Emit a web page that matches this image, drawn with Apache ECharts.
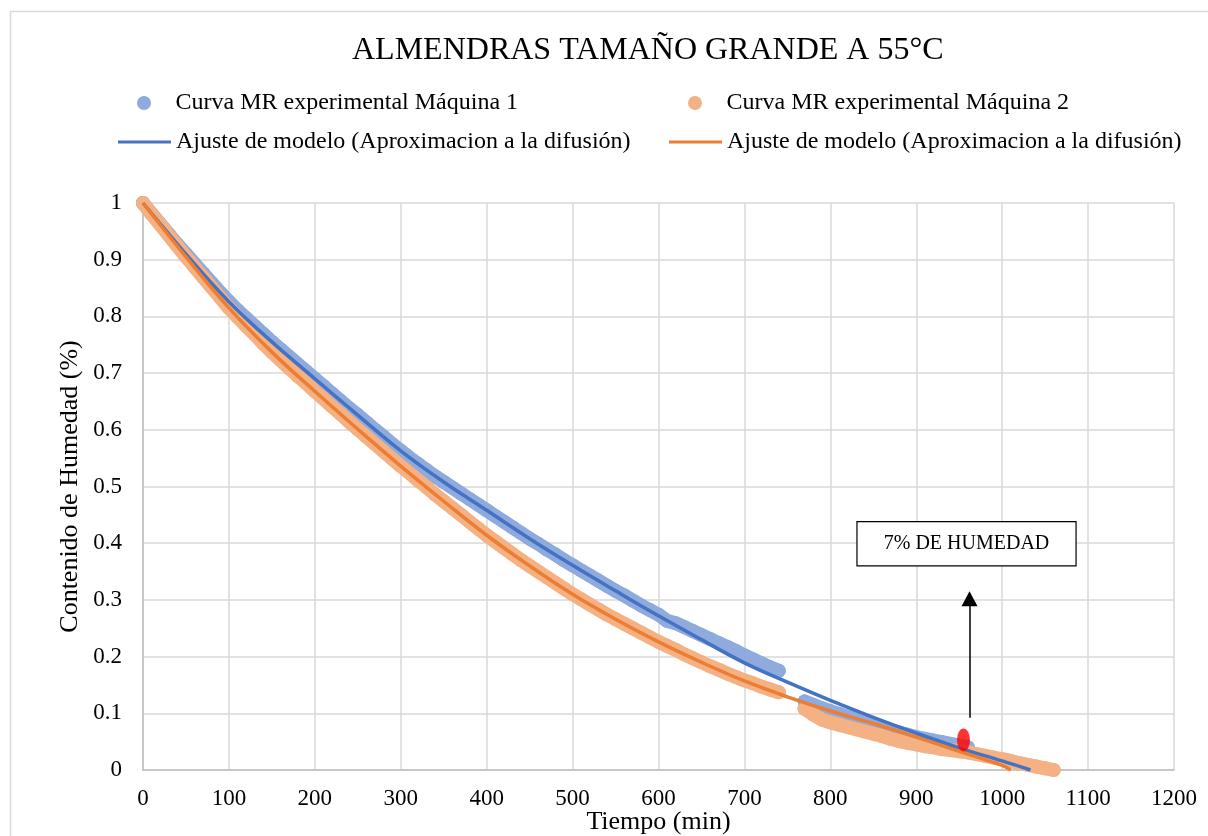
<!DOCTYPE html>
<html><head><meta charset="utf-8">
<script src="https://cdn.jsdelivr.net/npm/echarts@6/dist/echarts.min.js"></script>
<style>html,body{margin:0;padding:0;background:#fff}#c{width:1208px;height:836px}</style>
</head><body><div id="c"></div>
<script>
const titleText = 'ALMENDRAS TAMAÑO GRANDE A 55°C';
const nameM1 = 'Curva MR experimental Máquina 1';
const nameM2 = 'Curva MR experimental Máquina 2';
const nameFit = 'Ajuste de modelo (Aproximacion a la difusión)';
const xAxisName = 'Tiempo (min)';
const yAxisName = 'Contenido de Humedad (%)';
const boxText = '7% DE HUMEDAD';

const timeSeg1 = [0,10,20,30,40,50,60,70,80,90,100,110,120,130,140,150,160,170,180,190,200,210,220,230,240,250,260,270,280,290,300,310,320,330,340,350,360,370,380,390,400,410,420,430,440,450,460,470,480,490,500,510,520,530,540,550,560,570,580,590,600,610,620,630,640,650,660,670,680,690,700,710,720,730,740];
const m1Seg1 = [1.000,0.981,0.963,0.945,0.927,0.910,0.893,0.876,0.859,0.842,
0.826,0.811,0.797,0.783,0.769,0.755,0.742,0.729,0.716,0.703,
0.690,0.677,0.664,0.651,0.638,0.626,0.613,0.600,0.588,0.575,
0.563,0.551,0.540,0.529,0.518,0.508,0.498,0.488,0.478,0.468,
0.458,0.448,0.438,0.428,0.418,0.408,0.399,0.389,0.380,0.370,
0.361,0.352,0.343,0.334,0.325,0.316,0.308,0.299,0.290,0.282,
0.274,0.263,0.259,0.252,0.245,0.238,0.231,0.224,0.217,0.210,
0.202,0.195,0.188,0.181,0.175];
const m2Seg1 = [1.000,0.981,0.962,0.943,0.924,0.905,0.887,0.869,0.851,0.833,
0.815,0.799,0.783,0.768,0.752,0.737,0.723,0.709,0.695,0.682,
0.668,0.655,0.641,0.628,0.614,0.601,0.588,0.575,0.562,0.549,
0.536,0.524,0.511,0.499,0.486,0.474,0.462,0.450,0.438,0.426,
0.414,0.403,0.392,0.381,0.370,0.360,0.350,0.340,0.330,0.320,
0.310,0.301,0.292,0.283,0.274,0.266,0.258,0.250,0.242,0.234,
0.226,0.219,0.212,0.204,0.197,0.190,0.183,0.177,0.170,0.164,
0.158,0.153,0.147,0.142,0.137];
const timeSeg2M1 = [770,780,790,800,810,820,830,840,850,860,870,880,890,900,910,920,930,940,950,960];
const m1Seg2 = [0.121,0.115,0.109,0.104,0.099,0.094,0.089,0.085,0.080,0.075,0.070,0.066,0.062,0.058,0.055,0.052,0.049,0.046,0.043,0.040];
const timeSeg2M2 = [770,780,790,800,810,820,830,840,850,860,870,880,890,900,910,920,930,940,950,960,970,980,990,1000,1010,1020,1030,1040,1050,1060];
const m2Seg2 = [0.108,0.098,0.089,0.084,0.080,0.076,0.072,0.068,0.064,0.060,0.055,0.051,0.048,0.045,0.042,0.040,0.037,0.035,0.033,0.031,0.028,0.025,0.022,0.019,0.016,0.012,0.009,0.006,0.003,0.000];

const fitTimesM1 = [0,50,100,150,200,250,300,350,400,450,500,550,600,650,700,750,800,850,900,950,1000,1033];
const fitM1 = [1.000,0.910,0.826,0.755,0.690,0.626,0.563,0.508,0.458,0.408,0.361,0.316,0.272,0.230,0.189,0.155,0.123,0.093,0.065,0.039,0.016,0.000];
const fitTimesM2 = [0,50,100,150,200,250,300,350,400,450,500,550,600,650,700,750,800,850,900,950,1000,1010];
const fitM2 = [1.000,0.905,0.815,0.737,0.668,0.601,0.536,0.474,0.414,0.360,0.310,0.266,0.226,0.190,0.157,0.129,0.104,0.082,0.058,0.033,0.008,0.000];

const redPoint = [955, 0.053];
const arrowFrom = [962, 0.092];
const arrowTo = [962, 0.302];
const boxCorners = [[831, 0.438], [1086, 0.360]];

const xTicks = {min: 0, max: 1200, interval: 100};
const yTicks = {min: 0, max: 1, interval: 0.1};

function pairs(xs, ys) { return xs.map((x, i) => [x, ys[i]]); }

const FONT = "'Liberation Serif','Times New Roman',serif";
const BLUE_PT = '#8FAADC', ORANGE_PT = '#F4B183', BLUE_LN = '#4472C4', ORANGE_LN = '#ED7D31';
const chart = echarts.init(document.getElementById('c'), null, {renderer: 'canvas'});

function legendItem(name, icon, left, top, w, h, color, fmt) {
  return {
    data: [{name: name, icon: icon, itemStyle: {color: color}}],
    left: left, top: top, padding: 0, itemWidth: w, itemHeight: h,
    selectedMode: false,
    formatter: fmt || undefined,
    textStyle: {fontFamily: FONT, fontSize: 24, color: '#000', lineHeight: 24}
  };
}
function band(xs, ys, color) {
  return {type: 'line', symbol: 'none', silent: true, data: pairs(xs, ys),
    lineStyle: {color: color, width: 14, cap: 'round', join: 'round'}};
}

chart.setOption({
  animation: false,
  backgroundColor: '#fff',
  title: {
    text: titleText, left: 352, top: 35, padding: 0,
    textStyle: {fontFamily: FONT, fontSize: 32, fontWeight: 'normal', color: '#000'}
  },
  legend: [
    legendItem(nameM1, 'circle', 137, 91, 53, 14, BLUE_PT),
    legendItem(nameM2, 'circle', 688, 91, 53, 14, ORANGE_PT),
    legendItem('fitM1', 'rect', 118, 130, 53, 3, BLUE_LN, () => nameFit),
    legendItem('fitM2', 'rect', 669, 130, 53, 3, ORANGE_LN, () => nameFit)
  ],
  graphic: [{
    type: 'rect', left: 8, top: 9, z: -10, silent: true,
    shape: {width: 1260, height: 900},
    style: {fill: 'none', stroke: '#d9d9d9', lineWidth: 1.5}
  }],
  grid: {left: 143, top: 203, right: 34, bottom: 66, outerBoundsMode: 'none', containLabel: false},
  xAxis: {
    type: 'value', min: xTicks.min, max: xTicks.max, interval: xTicks.interval,
    name: xAxisName, nameLocation: 'middle', nameGap: 39, nameMoveOverlap: false,
    nameTextStyle: {fontFamily: FONT, fontSize: 26, color: '#000'},
    axisLine: {lineStyle: {color: '#bfbfbf', width: 1.5}},
    axisTick: {show: false},
    axisLabel: {fontFamily: FONT, fontSize: 23, color: '#000', margin: 17,
      formatter: v => String(v)},
    splitLine: {show: true, lineStyle: {color: '#d9d9d9', width: 1.5}}
  },
  yAxis: {
    type: 'value', min: yTicks.min, max: yTicks.max, interval: yTicks.interval,
    name: yAxisName, nameLocation: 'middle', nameGap: 60, nameMoveOverlap: false,
    nameTextStyle: {fontFamily: FONT, fontSize: 26, color: '#000'},
    axisLine: {show: true, lineStyle: {color: '#bfbfbf', width: 1.5}},
    axisTick: {show: false},
    axisLabel: {fontFamily: FONT, fontSize: 23, color: '#000', margin: 21,
      formatter: v => String(+v.toFixed(1))},
    splitLine: {show: true, lineStyle: {color: '#d9d9d9', width: 1.5}}
  },
  series: [
    band(timeSeg1, m1Seg1, BLUE_PT),
    band(timeSeg2M1, m1Seg2, BLUE_PT),
    {name: nameM1, type: 'scatter', symbol: 'circle', symbolSize: 14,
     itemStyle: {color: BLUE_PT, opacity: 1}, silent: true,
     data: pairs(timeSeg1, m1Seg1).concat(pairs(timeSeg2M1, m1Seg2))},
    band(timeSeg1, m2Seg1, ORANGE_PT),
    band(timeSeg2M2, m2Seg2, ORANGE_PT),
    {name: nameM2, type: 'scatter', symbol: 'circle', symbolSize: 14,
     itemStyle: {color: ORANGE_PT, opacity: 1}, silent: true,
     data: pairs(timeSeg1, m2Seg1).concat(pairs(timeSeg2M2, m2Seg2))},
    {name: 'fitM1', type: 'line', smooth: 0.4, symbol: 'none', silent: true,
     lineStyle: {color: BLUE_LN, width: 3.5}, itemStyle: {color: BLUE_LN},
     data: pairs(fitTimesM1, fitM1)},
    {name: 'fitM2', type: 'line', smooth: 0.4, symbol: 'none', silent: true,
     lineStyle: {color: ORANGE_LN, width: 3.5}, itemStyle: {color: ORANGE_LN},
     data: pairs(fitTimesM2, fitM2)},
    {name: 'marker', type: 'scatter', symbol: 'circle', symbolSize: [13, 23], silent: true,
     itemStyle: {color: '#FF0000'}, data: [redPoint], z: 5,
     markLine: {
       silent: true, animation: false,
       symbol: ['none', 'triangle'], symbolSize: [16, 15],
       label: {show: false},
       lineStyle: {color: '#000', width: 1.5, type: 'solid'},
       data: [[{coord: arrowFrom}, {coord: arrowTo}]]
     },
     markArea: {
       silent: true,
       itemStyle: {color: '#fff', borderColor: '#000', borderWidth: 1.2},
       label: {show: true, position: 'inside', fontFamily: FONT, fontSize: 20, color: '#000'},
       data: [[{coord: boxCorners[0], name: boxText}, {coord: boxCorners[1]}]]
     }}
  ]
});
</script></body></html>
